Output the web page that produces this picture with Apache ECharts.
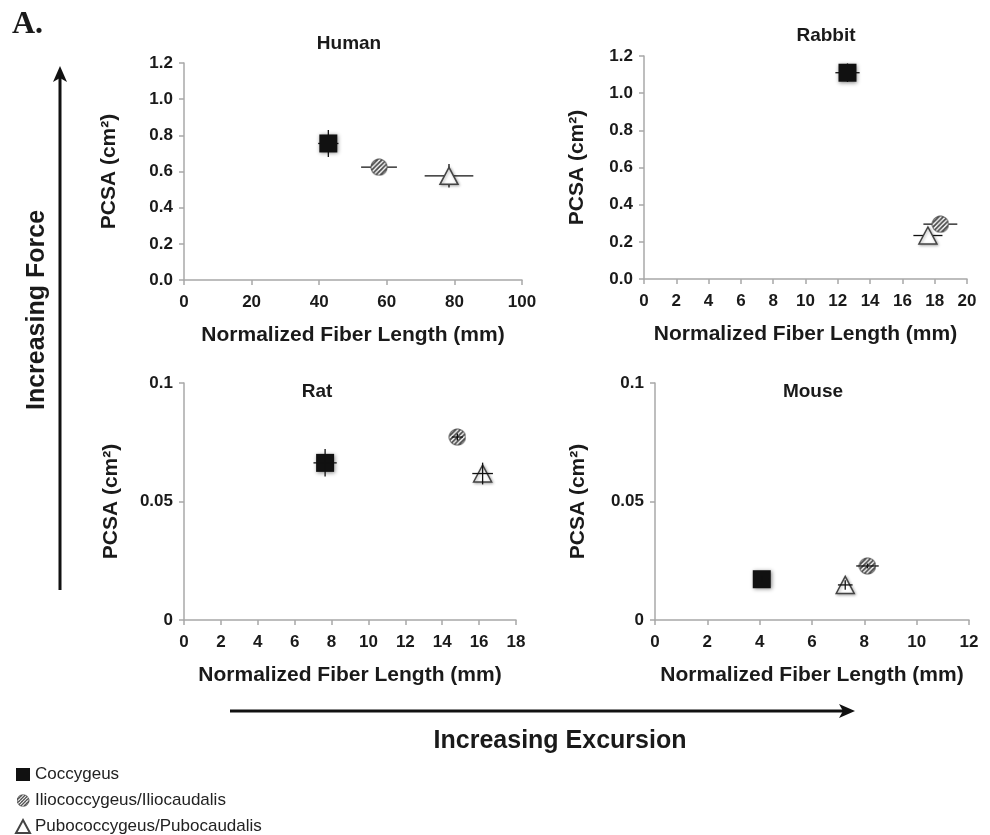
<!DOCTYPE html>
<html><head><meta charset="utf-8">
<script src="https://cdn.jsdelivr.net/npm/echarts@6/dist/echarts.min.js"></script>
<style>html,body{margin:0;padding:0;background:#fff}#c{width:990px;height:835px}</style>
</head><body><div id="c"></div>
<script>
const muscles = ['Coccygeus', 'Iliococcygeus/Iliocaudalis', 'Pubococcygeus/Pubocaudalis'];
const panelNames = ['Human', 'Rabbit', 'Rat', 'Mouse'];

const humanX = [42.7, 57.7, 78.4];
const humanY = [0.755, 0.624, 0.576];
const humanXErr = [3.0, 5.3, 7.2];
const humanYErr = [0.075, 0.02, 0.065];

const rabbitX = [12.6, 18.35, 17.58];
const rabbitY = [1.11, 0.295, 0.234];
const rabbitXErr = [0.75, 1.05, 0.9];
const rabbitYErr = [0.05, 0.02, 0.02];

const ratX = [7.65, 14.82, 16.19];
const ratY = [0.0663, 0.0772, 0.0618];
const ratXErr = [0.63, 0.3, 0.56];
const ratYErr = [0.0058, 0.0015, 0.0046];

const mouseX = [4.08, 8.12, 7.27];
const mouseY = [0.0172, 0.0228, 0.0148];
const mouseXErr = [0.25, 0.43, 0.28];
const mouseYErr = [0.001, 0.001, 0.002];

const xTicksHuman = [0, 20, 40, 60, 80, 100];
const xTicksRabbit = [0, 2, 4, 6, 8, 10, 12, 14, 16, 18, 20];
const xTicksRat = [0, 2, 4, 6, 8, 10, 12, 14, 16, 18];
const xTicksMouse = [0, 2, 4, 6, 8, 10, 12];
const yTicksLarge = ['0.0', '0.2', '0.4', '0.6', '0.8', '1.0', '1.2'];
const yTicksSmall = ['0', '0.05', '0.1'];

const panels = [
  {x: humanX, y: humanY, xe: humanXErr, ye: humanYErr, xTicks: xTicksHuman, yTicks: yTicksLarge, errOnTop: false},
  {x: rabbitX, y: rabbitY, xe: rabbitXErr, ye: rabbitYErr, xTicks: xTicksRabbit, yTicks: yTicksLarge, errOnTop: false},
  {x: ratX, y: ratY, xe: ratXErr, ye: ratYErr, xTicks: xTicksRat, yTicks: yTicksSmall, errOnTop: true},
  {x: mouseX, y: mouseY, xe: mouseXErr, ye: mouseYErr, xTicks: xTicksMouse, yTicks: yTicksSmall, errOnTop: true}
];

const FONT = "'Liberation Sans', Arial, Helvetica, sans-serif";
const grids = [
  {left: 184, top: 63, width: 338, height: 217},
  {left: 644, top: 56, width: 323, height: 223},
  {left: 184, top: 383, width: 332, height: 237},
  {left: 655, top: 383, width: 314, height: 237}
];
const yNameGaps = [64, 56, 62, 66];

// hatched circle symbol image
function hatchedCircle() {
  const S = 40, cv = document.createElement('canvas');
  cv.width = S; cv.height = S;
  const g = cv.getContext('2d');
  const r = S / 2 - 2;
  g.save();
  g.beginPath(); g.arc(S / 2, S / 2, r, 0, Math.PI * 2); g.closePath();
  g.fillStyle = '#fff'; g.fill();
  g.clip();
  g.strokeStyle = '#4a4a4a'; g.lineWidth = 4;
  for (let k = -S; k <= 2 * S; k += 10) {
    g.beginPath(); g.moveTo(k, S); g.lineTo(k + S, 0); g.stroke();
  }
  g.restore();
  g.beginPath(); g.arc(S / 2, S / 2, r, 0, Math.PI * 2);
  g.strokeStyle = '#555'; g.lineWidth = 2; g.stroke();
  return 'image://' + cv.toDataURL();
}
const hatchSymbol = hatchedCircle();

const axisLine = {show: true, lineStyle: {color: '#a8a8a8', width: 1.5}};
const axisTick = {show: true, length: 5, lineStyle: {color: '#a8a8a8', width: 1.5}};
const tickLabel = {color: '#1a1a1a', fontFamily: FONT, fontWeight: 'bold', fontSize: 17};
const nameStyle = {color: '#1a1a1a', fontFamily: FONT, fontWeight: 'bold', fontSize: 21};

const xAxes = [], yAxes = [], series = [];
panels.forEach((p, i) => {
  const xt = p.xTicks;
  const yv = p.yTicks.map(Number);
  xAxes.push({
    gridIndex: i, type: 'value', min: xt[0], max: xt[xt.length - 1], interval: xt[1] - xt[0],
    axisLine, axisTick, splitLine: {show: false},
    axisLabel: Object.assign({margin: 14}, tickLabel),
    name: 'Normalized Fiber Length (mm)', nameLocation: 'middle', nameGap: 45, nameTextStyle: nameStyle
  });
  yAxes.push({
    gridIndex: i, type: 'value', min: yv[0], max: yv[yv.length - 1], interval: yv[1] - yv[0],
    axisLine, axisTick, splitLine: {show: false},
    axisLabel: Object.assign({margin: 11, formatter: (v) => {
      const k = yv.findIndex(t => Math.abs(t - v) < 1e-9);
      return k >= 0 ? p.yTicks[k] : '';
    }}, tickLabel),
    name: 'PCSA (cm²)', nameLocation: 'middle', nameRotate: 90, nameGap: yNameGaps[i], nameTextStyle: nameStyle
  });
  const errData = p.x.map((v, k) => [v, p.y[k], p.xe[k], p.ye[k]]);
  series.push({
    type: 'custom', xAxisIndex: i, yAxisIndex: i, z: p.errOnTop ? 5 : 1, silent: true,
    data: errData,
    renderItem: (params, api) => {
      const x = api.value(0), y = api.value(1), dx = api.value(2), dy = api.value(3);
      const a = api.coord([x - dx, y]), b = api.coord([x + dx, y]);
      const c = api.coord([x, y - dy]), d = api.coord([x, y + dy]);
      const st = {stroke: '#111', lineWidth: 1.3};
      return {type: 'group', children: [
        {type: 'line', shape: {x1: a[0], y1: a[1], x2: b[0], y2: b[1]}, style: st},
        {type: 'line', shape: {x1: c[0], y1: c[1], x2: d[0], y2: d[1]}, style: st}
      ]};
    }
  });
  series.push({
    name: muscles[0], type: 'scatter', xAxisIndex: i, yAxisIndex: i, z: 3,
    symbol: 'rect', symbolSize: 18,
    itemStyle: {color: '#111', opacity: 1, shadowBlur: 4, shadowColor: 'rgba(0,0,0,0.45)', shadowOffsetX: 1, shadowOffsetY: 1},
    data: [[p.x[0], p.y[0]]]
  });
  series.push({
    name: muscles[1], type: 'scatter', xAxisIndex: i, yAxisIndex: i, z: 3,
    symbol: hatchSymbol, symbolSize: 18,
    itemStyle: {color: '#555', opacity: 1},
    data: [[p.x[1], p.y[1]]]
  });
  series.push({
    name: muscles[2], type: 'scatter', xAxisIndex: i, yAxisIndex: i, z: 3,
    symbol: 'triangle', symbolSize: [18, 17],
    itemStyle: {color: '#fff', opacity: 1, borderColor: '#444', borderWidth: 1.5,
      shadowBlur: 3, shadowColor: 'rgba(0,0,0,0.3)', shadowOffsetX: 1, shadowOffsetY: 1},
    data: [[p.x[2], p.y[2]]]
  });
});

const titlePos = [[349, 44], [826, 36], [317, 392], [813, 392]];
const graphic = panelNames.map((n, i) => ({
  type: 'text', x: titlePos[i][0], y: titlePos[i][1], z: 10,
  style: {text: n, font: 'bold 19px ' + FONT, fill: '#1a1a1a', align: 'center', verticalAlign: 'middle'}
}));
graphic.push(
  {type: 'text', x: 12, y: 25, style: {text: 'A.', font: 'bold 32px "Liberation Serif", "Times New Roman", serif', fill: '#1a1a1a', verticalAlign: 'middle'}},
  {type: 'line', shape: {x1: 60, y1: 590, x2: 60, y2: 78}, style: {stroke: '#111', lineWidth: 3}},
  {type: 'polygon', shape: {points: [[60, 66], [53, 82], [60, 78], [67, 82]]}, style: {fill: '#111'}},
  {type: 'text', x: 37, y: 310, rotation: Math.PI / 2, style: {text: 'Increasing Force', font: 'bold 25px ' + FONT, fill: '#1a1a1a', align: 'center', verticalAlign: 'middle'}},
  {type: 'line', shape: {x1: 230, y1: 711, x2: 843, y2: 711}, style: {stroke: '#111', lineWidth: 3}},
  {type: 'polygon', shape: {points: [[855, 711], [839, 704], [843, 711], [839, 718]]}, style: {fill: '#111'}},
  {type: 'text', x: 560, y: 741, style: {text: 'Increasing Excursion', font: 'bold 25px ' + FONT, fill: '#1a1a1a', align: 'center', verticalAlign: 'middle'}}
);

const chart = echarts.init(document.getElementById('c'), null, {renderer: 'canvas'});
chart.setOption({
  animation: false,
  backgroundColor: '#fff',
  grid: grids,
  xAxis: xAxes,
  yAxis: yAxes,
  legend: {
    orient: 'vertical', left: 15, top: 766, height: 80, padding: 0, itemGap: 9, itemWidth: 14, itemHeight: 13,
    textStyle: {fontFamily: FONT, fontSize: 17, color: '#222'},
    data: [
      {name: muscles[0], icon: 'rect'},
      {name: muscles[1], icon: hatchSymbol},
      {name: muscles[2], icon: 'triangle'}
    ]
  },
  series,
  graphic
});
</script></body></html>
